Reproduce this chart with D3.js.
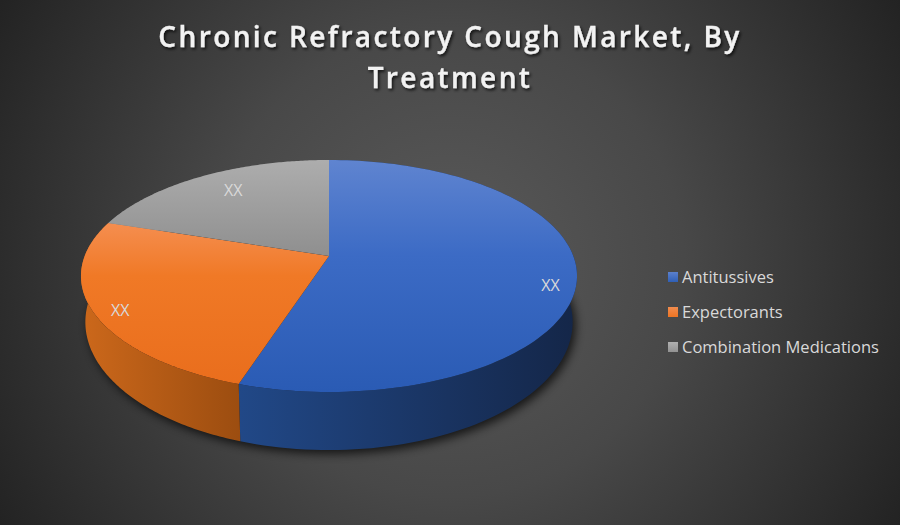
<!DOCTYPE html>
<html><head><meta charset="utf-8">
<script src="https://cdn.jsdelivr.net/npm/d3@7/dist/d3.min.js"></script>
<style>html,body{margin:0;padding:0;background:#333;overflow:hidden}svg{display:block}</style>
</head><body><svg id="c" width="900" height="525"></svg>
<script>
const titleLines = ["Chronic Refractory Cough Market, By", "Treatment"];
const categories = ["Antitussives", "Expectorants", "Combination Medications"];
const values = [55, 25, 20];
const valueLabels = ["XX", "XX", "XX"];

const svg = d3.select("#c"), defs = svg.append("defs");
const W = 900, H = 525;

const palette = [
  {top:[[0,"#5f84d0"],[0.41,"#3c6bc5"],[1,"#2a5bb4"]], side:["#214887","#142648"], key:["#5b80cc","#2f5fb6"]},
  {top:[[0.27,"#f58e50"],[0.5,"#f07926"],[1,"#e96d1c"]], side:["#cc681b","#9c4d10"], key:["#f18c4e","#ed7423"]},
  {top:[[0,"#adadad"],[0.41,"#8f8f8f"]], side:["#7a7a7a","#555555"], key:["#b0b0b0","#929292"]}
];

// background
const bg = defs.append("radialGradient").attr("id","bg").attr("gradientUnits","userSpaceOnUse")
  .attr("cx",W/2).attr("cy",H/2).attr("r",520);
bg.append("stop").attr("offset",0).attr("stop-color","#5a5a5a");
bg.append("stop").attr("offset",0.45).attr("stop-color","#484848");
bg.append("stop").attr("offset",1).attr("stop-color","#232323");
svg.append("rect").attr("width",W).attr("height",H).attr("fill","url(#bg)");

defs.append("filter").attr("id","blur").attr("x","-10%").attr("y","-10%").attr("width","120%").attr("height","120%")
  .append("feGaussianBlur").attr("stdDeviation",5);
const ts = defs.append("filter").attr("id","tshadow").attr("x","-5%").attr("y","-20%").attr("width","110%").attr("height","150%");
ts.append("feDropShadow").attr("dx",1.5).attr("dy",2).attr("stdDeviation",1.4).attr("flood-color","#000").attr("flood-opacity",0.75);

// perspective projection of a unit disc (u right, v toward the viewer)
const k = 0.1724;
const project = (cx, cy, a, b) => (theta, r=1) => {
  const u = r*Math.sin(theta), v = -r*Math.cos(theta), d = 1 - k*v;
  return [cx + a*u/d, cy + b*v/d];
};
const topP = project(329,256,244.3,112.55);
const botP = project(329,300,240,124.2);

const arcs = d3.pie().sort(null).startAngle(0).endAngle(2*Math.PI)(values);
const samples = (s,e) => d3.range(0,121).map(i => s+(e-s)*i/120);
const line = d3.line();

// pie shadow
const full = samples(0,2*Math.PI);
svg.append("path").attr("d", line(full.map(t=>botP(t))) + "Z")
  .attr("transform","translate(3,4)").attr("fill","#000").attr("opacity",0.7).attr("filter","url(#blur)");

const g = svg.append("g");
// side walls
arcs.forEach((d,i)=>{
  const ts_ = samples(d.startAngle,d.endAngle);
  const tops = ts_.map(t=>topP(t)), bots = ts_.map(t=>botP(t)).reverse();
  const xs = tops.concat(bots).map(p=>p[0]);
  const id="side"+i;
  const lg = defs.append("linearGradient").attr("id",id).attr("gradientUnits","userSpaceOnUse")
    .attr("x1", i===0?240:d3.min(xs)).attr("x2", i===0?577:240).attr("y1",0).attr("y2",0);
  lg.append("stop").attr("offset",0).attr("stop-color",palette[i].side[0]);
  lg.append("stop").attr("offset",1).attr("stop-color",palette[i].side[1]);
  g.append("path").attr("d", line(tops.concat(bots))+"Z").attr("fill",`url(#${id})`);
});
// top faces
const tg = defs.selectAll(".t").data(arcs).join("linearGradient").attr("id",(d,i)=>"top"+i)
  .attr("gradientUnits","userSpaceOnUse").attr("x1",0).attr("x2",0).attr("y1",160).attr("y2",392);
tg.selectAll("stop").data((d,i)=>palette[i].top).join("stop")
  .attr("offset",s=>s[0]).attr("stop-color",s=>s[1]);
g.selectAll(".slice").data(arcs).join("path").attr("class","slice")
  .attr("d",d=>line([topP(0,0)].concat(samples(d.startAngle,d.endAngle).map(t=>topP(t))))+"Z")
  .attr("fill",(d,i)=>`url(#top${i})`);

// data labels
const nudge = [[-1,13],[2,5],[19,7]];
svg.selectAll(".val").data(arcs).join("text").attr("class","val")
  .text((d,i)=>valueLabels[i])
  .attr("x",(d,i)=>topP((d.startAngle+d.endAngle)/2,0.9)[0]+nudge[i][0])
  .attr("y",(d,i)=>topP((d.startAngle+d.endAngle)/2,0.9)[1]+nudge[i][1])
  .attr("text-anchor","middle").attr("dominant-baseline","central")
  .attr("font-family","'Open Sans',sans-serif").attr("font-size",16).attr("fill","#d9d9d9");

// title
svg.selectAll(".title").data(titleLines).join("text").attr("class","title")
  .text(d=>d).attr("x",450).attr("y",(d,i)=>47+i*41)
  .attr("text-anchor","middle").attr("font-family","'Open Sans',sans-serif")
  .attr("font-weight",600).attr("font-size",28).attr("letter-spacing",2.4)
  .attr("fill","#f2f2f2").attr("stroke","#f2f2f2").attr("stroke-width",0.3).attr("filter","url(#tshadow)");

// legend
const ly = d3.scalePoint().domain(categories).range([276,346]);
const lk = defs.selectAll(".k").data(categories).join("linearGradient").attr("id",(d,i)=>"key"+i)
  .attr("x1",0).attr("x2",0).attr("y1",0).attr("y2",1);
lk.append("stop").attr("offset",0).attr("stop-color",(d,i)=>palette[i].key[0]);
lk.append("stop").attr("offset",1).attr("stop-color",(d,i)=>palette[i].key[1]);
const leg = svg.append("g").selectAll("g").data(categories).join("g")
  .attr("transform",d=>`translate(0,${ly(d)})`);
leg.append("rect").attr("x",668).attr("y",-4).attr("width",10).attr("height",10).attr("fill",(d,i)=>`url(#key${i})`);
leg.append("text").text(d=>d).attr("x",682).attr("y",0).attr("dominant-baseline","central")
  .attr("font-family","'Open Sans',sans-serif").attr("font-size",16.5).attr("fill","#d9d9d9");
</script></body></html>
